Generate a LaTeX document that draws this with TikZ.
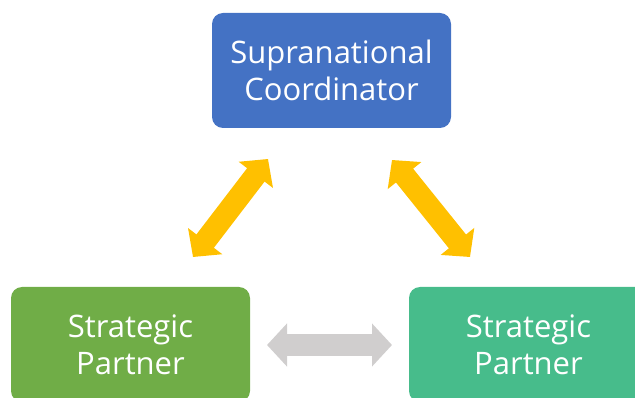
\documentclass[tikz,border=0pt]{standalone}
\usepackage{fontspec}
\setmainfont{Open Sans}
\usetikzlibrary{arrows.meta}
\definecolor{cblue}{HTML}{4472C4}
\definecolor{cgreen}{HTML}{70AD47}
\definecolor{cteal}{HTML}{47BC8B}
\definecolor{cyellow}{HTML}{FFC000}
\definecolor{cgray}{HTML}{D0CECE}
\begin{document}
\begin{tikzpicture}[x=1pt,y=-1pt,
  box/.style={rounded corners=11pt, minimum width=239pt, minimum height=115pt,
    inner sep=0pt, text=white, align=center,
    font=\fontsize{31}{37}\selectfont},
  blockarrow/.style={line width=22pt,
    {Triangle[length=20pt,width=42pt]}-{Triangle[length=20pt,width=42pt]}}]
\useasboundingbox (0,0) rectangle (635,398);
\node[box, fill=cblue] (top) at (331.5,70.5) {Supranational\\Coordinator};
\node[box, fill=cgreen] (left) at (130.5,344.5) {Strategic\\Partner};
\node[box, fill=cteal] (right) at (528.5,344.5) {Strategic\\Partner};
\coordinate (la) at (268,159);
\coordinate (lb) at (193,257);
\coordinate (ra) at (392,160);
\coordinate (rb) at (470,257);
\coordinate (ga) at (267,345);
\coordinate (gb) at (392,345);
\draw[blockarrow, cyellow] (lb) -- (la);
\draw[blockarrow, cyellow] (ra) -- (rb);
\draw[blockarrow, cgray] (ga) -- (gb);
\end{tikzpicture}
\end{document}
